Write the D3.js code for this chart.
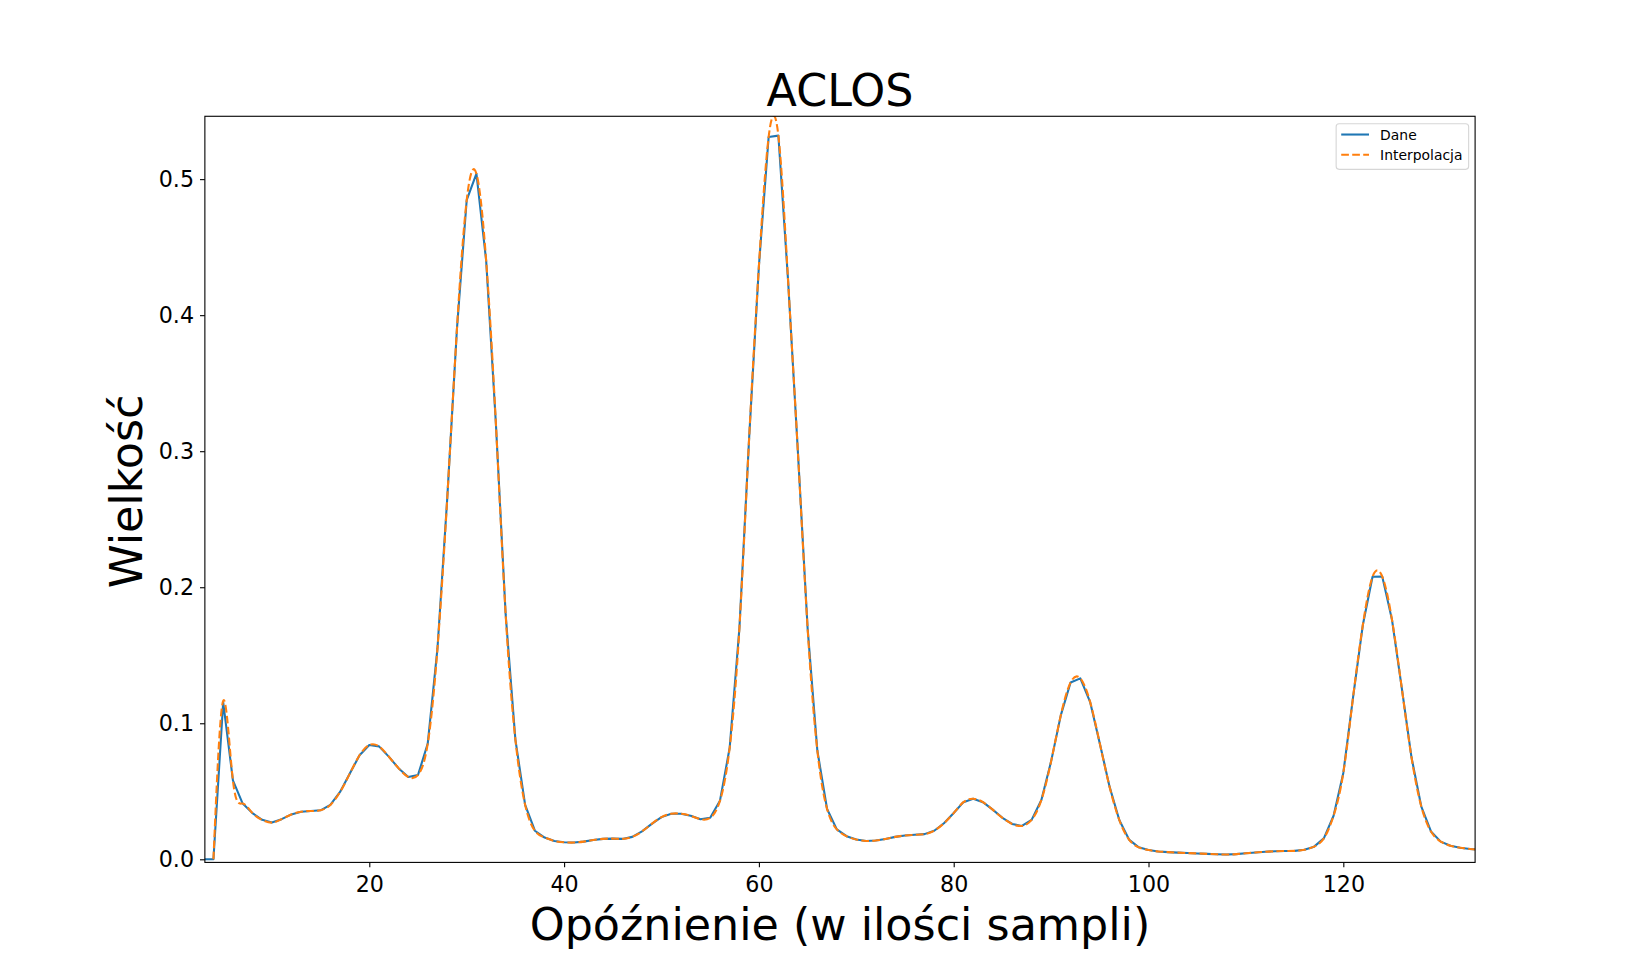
<!DOCTYPE html>
<html>
<head>
<meta charset="utf-8">
<script src="https://cdn.jsdelivr.net/npm/d3@7"></script>
<style>
  body { margin: 0; background: #fff; }
  text { font-family: "DejaVu Sans", sans-serif; fill: #000; }
</style>
</head>
<body>
<svg id="canvas" width="1639" height="969"></svg>
<script>
// lag (in samples) of the first value in each series
const daneStart = 3;
const interpStart = 4;

// "Dane" - measured values, one per lag
const dane = [
  0, 0, 0.1155, 0.058, 0.041, 0.034, 0.029, 0.027, 0.0295, 0.033,          // 3-12
  0.035, 0.0355, 0.036, 0.040, 0.0495, 0.063, 0.0765, 0.084, 0.083, 0.0755, // 13-22
  0.067, 0.0605, 0.062, 0.085, 0.155, 0.265, 0.39, 0.4845, 0.504, 0.44,     // 23-32
  0.32, 0.18, 0.088, 0.04, 0.021, 0.016, 0.0135, 0.0125, 0.0123, 0.013,     // 33-42
  0.0142, 0.015, 0.0152, 0.015, 0.0165, 0.0205, 0.026, 0.031, 0.0335, 0.0335, // 43-52
  0.032, 0.0295, 0.0305, 0.043, 0.082, 0.17, 0.31, 0.436, 0.531, 0.532,     // 53-62
  0.425, 0.30, 0.17, 0.08, 0.037, 0.022, 0.017, 0.0145, 0.0135, 0.0138,     // 63-72
  0.015, 0.0165, 0.0175, 0.018, 0.0185, 0.021, 0.0265, 0.034, 0.042, 0.0445, // 73-82
  0.042, 0.0365, 0.0305, 0.026, 0.0245, 0.029, 0.0436, 0.072, 0.106, 0.130, // 83-92
  0.133, 0.1158, 0.0852, 0.0534, 0.0289, 0.0145, 0.0088, 0.0068, 0.0058, 0.0053, // 93-102
  0.0049, 0.0046, 0.0043, 0.004, 0.0037, 0.0035, 0.0038, 0.0044, 0.005, 0.0056,  // 103-112
  0.0059, 0.0061, 0.0062, 0.007, 0.0093, 0.0154, 0.032, 0.0635, 0.119, 0.172,    // 113-122
  0.2077, 0.2078, 0.176, 0.126, 0.075, 0.039, 0.0205, 0.013, 0.010, 0.0085,      // 123-132
  0.0076, 0.0070                                                                 // 133-134
];

// "Interpolacja" - values the smooth curve passes through at each lag
const interpolacja = [
  0, 0.1165, 0.058, 0.041, 0.034, 0.029, 0.027, 0.0295, 0.033,              // 4-12
  0.035, 0.0355, 0.036, 0.040, 0.0495, 0.063, 0.0765, 0.084, 0.083, 0.0755, // 13-22
  0.067, 0.0605, 0.062, 0.085, 0.155, 0.265, 0.39, 0.4845, 0.504, 0.44,     // 23-32
  0.32, 0.18, 0.088, 0.04, 0.021, 0.016, 0.0135, 0.0125, 0.0123, 0.013,     // 33-42
  0.0142, 0.015, 0.0152, 0.015, 0.0165, 0.0205, 0.026, 0.031, 0.0335, 0.0335, // 43-52
  0.032, 0.0295, 0.0305, 0.043, 0.082, 0.17, 0.31, 0.436, 0.531, 0.532,     // 53-62
  0.425, 0.30, 0.17, 0.08, 0.037, 0.022, 0.017, 0.0145, 0.0135, 0.0138,     // 63-72
  0.015, 0.0165, 0.0175, 0.018, 0.0185, 0.021, 0.0265, 0.034, 0.042, 0.0445, // 73-82
  0.042, 0.0365, 0.0305, 0.026, 0.0245, 0.029, 0.0436, 0.072, 0.106, 0.130, // 83-92
  0.133, 0.1158, 0.0852, 0.0534, 0.0289, 0.0145, 0.0088, 0.0068, 0.0058, 0.0053, // 93-102
  0.0049, 0.0046, 0.0043, 0.004, 0.0037, 0.0035, 0.0038, 0.0044, 0.005, 0.0056,  // 103-112
  0.0059, 0.0061, 0.0062, 0.007, 0.0093, 0.0154, 0.032, 0.0635, 0.119, 0.172,    // 113-122
  0.2077, 0.2078, 0.176, 0.126, 0.075, 0.039, 0.0205, 0.013, 0.010, 0.0085,      // 123-132
  0.0076, 0.0070                                                                 // 133-134
];

const xTicks = [20, 40, 60, 80, 100, 120];
const yTicks = [0.0, 0.1, 0.2, 0.3, 0.4, 0.5];
const seriesNames = ['Dane', 'Interpolacja'];
const seriesColors = ['#1f77b4', '#ff7f0e'];

// axes box, same proportions as the default matplotlib subplot
const W = 1639, H = 969;
const box = { left: 0.125 * W, right: 0.9 * W, top: 0.12 * H, bottom: 0.89 * H };

const x = d3.scaleLinear().domain([3.12, 133.53]).range([box.left, box.right]);
const y = d3.scaleLinear().domain([-0.00228, 0.5462]).range([box.bottom, box.top]);

const svg = d3.select('#canvas');
svg.append('rect').attr('width', W).attr('height', H).attr('fill', '#fff');

svg.append('clipPath').attr('id', 'plotclip')
  .append('rect')
  .attr('x', box.left).attr('y', box.top)
  .attr('width', box.right - box.left).attr('height', box.bottom - box.top);

let daneRows = dane.map((v, i) => ({ lag: daneStart + i, v: v }));
let interpRows = interpolacja.map((v, i) => ({ lag: interpStart + i, v: v }));

let straight = d3.line().x(d => x(d.lag)).y(d => y(d.v));
let smooth = d3.line().x(d => x(d.lag)).y(d => y(d.v)).curve(d3.curveNatural);

let plot = svg.append('g').attr('clip-path', 'url(#plotclip)');

plot.append('path')
  .datum(daneRows)
  .attr('d', straight)
  .attr('fill', 'none')
  .attr('stroke', seriesColors[0])
  .attr('stroke-width', 2.08)
  .attr('stroke-linejoin', 'round');

plot.append('path')
  .datum(interpRows)
  .attr('d', smooth)
  .attr('fill', 'none')
  .attr('stroke', seriesColors[1])
  .attr('stroke-width', 2.08)
  .attr('stroke-dasharray', '7.7,3.3');

// axes
let xAxis = d3.axisBottom(x).tickValues(xTicks).tickFormat(d3.format('d'))
  .tickSize(4.86).tickPadding(8.5).tickSizeOuter(0);
let yAxis = d3.axisLeft(y).tickValues(yTicks).tickFormat(d3.format('.1f'))
  .tickSize(4.86).tickPadding(6).tickSizeOuter(0);

let gx = svg.append('g').attr('transform', 'translate(0,' + box.bottom + ')').call(xAxis);
let gy = svg.append('g').attr('transform', 'translate(' + box.left + ',0)').call(yAxis);

[gx, gy].forEach(g => {
  g.select('.domain').remove();
  g.selectAll('line').attr('stroke', '#000').attr('stroke-width', 1.1);
  g.selectAll('text')
    .attr('font-family', '"DejaVu Sans", sans-serif')
    .attr('font-size', '22.2px')
    .attr('fill', '#000');
});

// spines
svg.append('rect')
  .attr('x', box.left).attr('y', box.top)
  .attr('width', box.right - box.left).attr('height', box.bottom - box.top)
  .attr('fill', 'none')
  .attr('stroke', '#000')
  .attr('stroke-width', 1.1);

// title and labels
let mid = (box.left + box.right) / 2;
svg.append('text')
  .attr('x', mid).attr('y', 106)
  .attr('text-anchor', 'middle')
  .attr('font-size', '44.4px')
  .text('ACLOS');

svg.append('text')
  .attr('x', mid).attr('y', 940)
  .attr('text-anchor', 'middle')
  .attr('font-size', '44.4px')
  .text('Opóźnienie (w ilości sampli)');

svg.append('text')
  .attr('transform', 'translate(141.5,' + ((box.top + box.bottom) / 2 + 2) + ') rotate(-90)')
  .attr('text-anchor', 'middle')
  .attr('font-size', '44.4px')
  .text('Wielkość');

// legend, upper right
let fs = 13.9;
let legW = 132.5, legH = 45.6;
let legX = box.right - 0.5 * fs - legW;
let legY = box.top + 0.5 * fs;
let legend = svg.append('g').attr('transform', 'translate(' + legX + ',' + legY + ')');

legend.append('rect')
  .attr('x', 0.5).attr('y', 0.5)
  .attr('width', legW).attr('height', legH)
  .attr('rx', 3).attr('ry', 3)
  .attr('fill', '#fff')
  .attr('fill-opacity', 0.8)
  .attr('stroke', '#d6d6d6')
  .attr('stroke-width', 1.1);

seriesNames.forEach((name, i) => {
  let cy = 11.3 + i * 20.3;
  let ln = legend.append('line')
    .attr('x1', 0.4 * fs).attr('x2', 0.4 * fs + 2 * fs)
    .attr('y1', cy).attr('y2', cy)
    .attr('stroke', seriesColors[i])
    .attr('stroke-width', 2.08);
  if (i === 1) {
    ln.attr('stroke-dasharray', '7.7,3.3');
  }
  legend.append('text')
    .attr('x', 0.4 * fs + 2 * fs + 0.8 * fs)
    .attr('y', cy)
    .attr('dy', '0.36em')
    .attr('font-size', fs + 'px')
    .text(name);
});
</script>
</body>
</html>
